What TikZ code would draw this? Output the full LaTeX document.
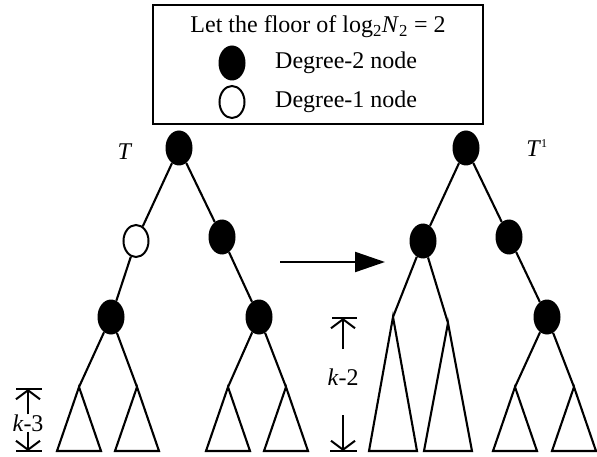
\documentclass[tikz,border=0pt]{standalone}
\usepackage{fontspec}
\setmainfont{Liberation Serif}
\usetikzlibrary{arrows.meta,positioning,calc,shapes.geometric}
\tikzset{
  lbl/.style={font=\fontsize{24}{28}\selectfont, inner sep=0pt},
  dn/.style={ellipse, fill=black, minimum width=27pt, minimum height=35pt, inner sep=0pt},
  on/.style={ellipse, draw, fill=white, line width=2pt, minimum width=25pt, minimum height=32pt, inner sep=0pt},
  br/.style={line width=2.1pt},
  tri/.style={line width=2.1pt, line join=miter},
  dimarr/.style={-{Straight Barb[length=9pt,width=24pt]}, line width=2pt},
  bar/.style={line width=2pt},
  big/.style={-{Triangle[length=30pt,width=20pt]}, line width=2.2pt},
}
% leaf subtree hanging from an apex down to the ground line
\newcommand{\subtree}[2]{\draw[tri] (#1) -- ($(#1 |- gnd)+(-#2,0)$) -- ($(#1 |- gnd)+(#2,0)$) -- cycle;}
\begin{document}
\begin{tikzpicture}[x=1pt, y=-1pt]
  \useasboundingbox (0,0) rectangle (597,457);
  \coordinate (gnd) at (0,451);
  % legend
  \node[draw, line width=2pt, minimum width=330pt, minimum height=119pt] (legend) at (318,64.5) {};
  \node[lbl] (title) at (318,27) {Let the floor of log\textsubscript{2}\textit{N}\textsubscript{2} = 2};
  \node[dn] (key2) at (232,63) {};
  \node[lbl, anchor=west] (key2t) at (275,63) {Degree-2 node};
  \node[on] (key1) at (232,102) {};
  \node[lbl, anchor=west] (key1t) at (275,102) {Degree-1 node};
  % tree T
  \node[lbl] (tl) at (125,152) {\textit{T}};
  \node[dn] (a) at (179,148) {};
  \node[on] (al) at (136,241) {};
  \node[dn] (ar) at (222,237) {};
  \node[dn] (all) at (111,317) {};
  \node[dn] (arr) at (259,317) {};
  \coordinate (s1) at (79,387); \coordinate (s2) at (137,387);
  \coordinate (s3) at (228,387); \coordinate (s4) at (286,387);
  \draw[br] (a) -- (al); \draw[br] (a) -- (ar);
  \draw[br] (al) -- (all); \draw[br] (ar) -- (arr);
  \draw[br] (all) -- (s1); \draw[br] (all) -- (s2);
  \draw[br] (arr) -- (s3); \draw[br] (arr) -- (s4);
  \subtree{s1}{22} \subtree{s2}{22} \subtree{s3}{22} \subtree{s4}{22}
  % height k-3
  \node[lbl] (k3) at (28,423) {\textit{k}-3};
  \coordinate (k3top) at (28,389); \coordinate (k3bot) at (28,451);
  \draw[bar] ($(k3top)+(-12,0)$) -- ($(k3top)+(14,0)$);
  \draw[bar] ($(k3bot)+(-12,0)$) -- ($(k3bot)+(14,0)$);
  \draw[dimarr] (k3) -- (k3top); \draw[dimarr] (k3) -- (k3bot);
  % transformation
  \coordinate (mfrom) at (280,262); \coordinate (mto) at (385,262);
  \draw[big] (mfrom) -- (mto);
  % tree T^1
  \node[lbl] (tr) at (537,148) {\textit{T}\textsuperscript{\fontsize{12}{12}\selectfont 1}};
  \node[dn] (b) at (466,148) {};
  \node[dn] (bl) at (423,241) {};
  \node[dn] (br) at (509,237) {};
  \node[dn] (brr) at (547,317) {};
  \coordinate (t1) at (393,317); \coordinate (t2) at (448,323);
  \coordinate (t3) at (515,387); \coordinate (t4) at (574,387);
  \draw[br] (b) -- (bl); \draw[br] (b) -- (br); \draw[br] (br) -- (brr);
  \draw[br] (bl) -- (t1); \draw[br] (bl) -- (t2);
  \draw[br] (brr) -- (t3); \draw[br] (brr) -- (t4);
  \subtree{t1}{24} \subtree{t2}{24} \subtree{t3}{22} \subtree{t4}{22}
  % height k-2
  \node[lbl] (k2) at (343,377) {\textit{k}-2};
  \coordinate (k2a) at (343,349); \coordinate (k2top) at (343,318);
  \coordinate (k2b) at (343,415); \coordinate (k2bot) at (343,451);
  \draw[bar] ($(k2top)+(-11,0)$) -- ($(k2top)+(14,0)$);
  \draw[bar] ($(k2bot)+(-13,0)$) -- ($(k2bot)+(14,0)$);
  \draw[dimarr] (k2a) -- (k2top); \draw[dimarr] (k2b) -- (k2bot);
\end{tikzpicture}
\end{document}
